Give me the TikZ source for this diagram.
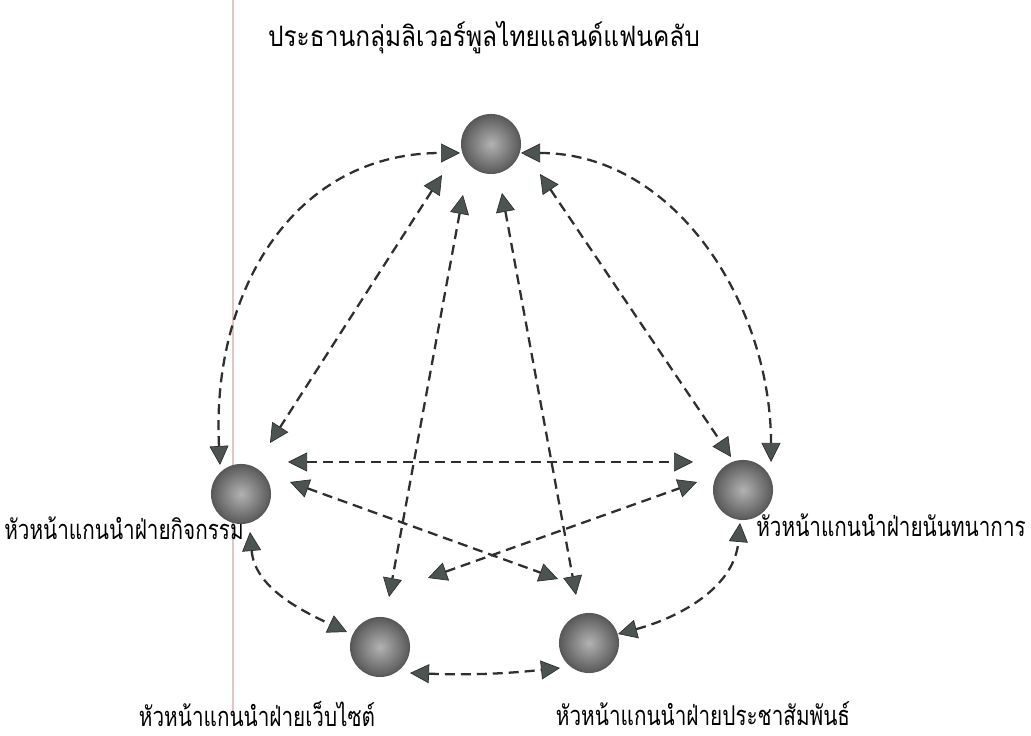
\documentclass[tikz,border=0pt]{standalone}
\usepackage{fontspec}
\newfontfamily\thaifont[Script=Thai, FakeStretch=0.87]{Loma}
\newfontfamily\thailabel[Script=Thai, FakeStretch=0.76]{Loma}
\usetikzlibrary{arrows.meta, calc}

\definecolor{linkgray}{RGB}{45,48,46}
\definecolor{tipgray}{RGB}{75,84,80}
\definecolor{marginpink}{RGB}{228,196,196}

\begin{document}
\begin{tikzpicture}[x=0.02cm, y=0.02cm,
    ball/.style = {circle, minimum size=1.18cm, inner sep=0pt, draw=linkgray!80, line width=0.6pt,
                   inner color=gray!60, outer color=gray!70!black},
    link/.style = {draw=linkgray, line width=1.3pt, dash pattern=on 5.7pt off 3.4pt,
                   {Triangle[length=0.38cm, width=0.38cm, fill=tipgray, line width=0.4pt]}-{Triangle[length=0.38cm, width=0.38cm, fill=tipgray, line width=0.4pt]}},
    lbl/.style  = {inner sep=0pt, font=\thailabel\fontsize{15.5}{18}\selectfont}]

    \useasboundingbox (0,0) rectangle (1031,736);
    \draw[marginpink, line width=1.2pt] (233,736) -- (233,20);

    \node[ball] (pres) at (491,592) {};
    \node[ball] (act)  at (241,242) {};
    \node[ball] (rec)  at (743,246) {};
    \node[ball] (web)  at (380,89)  {};
    \node[ball] (pr)   at (589,93)  {};

    \node[lbl, font=\thaifont\fontsize{16}{19}\selectfont] (prestxt) at (484,698) {ประธานกลุ่มลิเวอร์พูลไทยแลนด์แฟนคลับ};
    \node[lbl] (acttxt)  at (124,208) {หัวหน้าแกนนำฝ่ายกิจกรรม};
    \node[lbl] (rectxt)  at (891,211) {หัวหน้าแกนนำฝ่ายนันทนาการ};
    \node[lbl] (webtxt)  at (257,22)  {หัวหน้าแกนนำฝ่ายเว็บไซต์};
    \node[lbl] (prtxt)   at (703,22)  {หัวหน้าแกนนำฝ่ายประชาสัมพันธ์};

    \draw[link] ($(act)+(-21,29)$) to[out=93, in=180, looseness=1.1] ($(pres)+(-31,-9)$);
    \draw[link] ($(pres)+(30,-9)$) to[out=0, in=90] ($(rec)+(28,28)$);

    \draw[link] ($(pres)+(-49,-31)$) -- ($(act)+(29,51)$);
    \draw[link] ($(pres)+(-28,-51)$) -- ($(web)+(9,50)$);
    \draw[link] ($(pres)+(11,-49)$)  -- ($(pr)+(-13,48)$);
    \draw[link] ($(pres)+(49,-30)$)  -- ($(rec)+(-12,33)$);

    \draw[link] ($(act)+(47,32)$) -- ($(rec)+(-50,28)$);
    \draw[link] ($(act)+(49,12)$) -- ($(pr)+(-31,64)$);
    \draw[link] ($(web)+(48,69)$) -- ($(rec)+(-46,8)$);

    \draw[link] ($(act)+(9,-38)$) to[out=-85, in=155] ($(web)+(-33,15)$);
    \draw[link] ($(web)+(30,-26)$) to[bend right=4] ($(pr)+(-29,-25)$);
    \draw[link] ($(pr)+(29,9)$) to[out=15, in=-95] ($(rec)+(-3,-33)$);
\end{tikzpicture}
\end{document}
